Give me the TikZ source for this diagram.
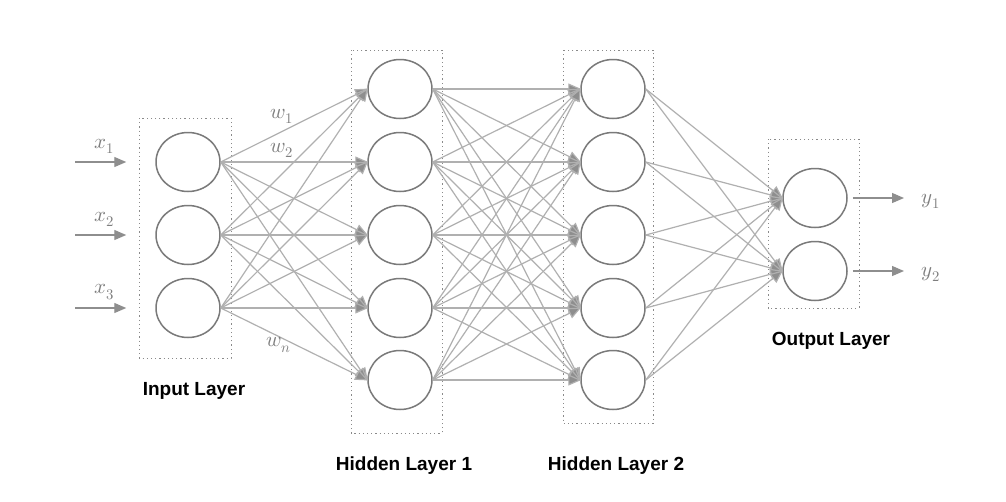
\documentclass[tikz,border=0pt]{standalone}
\usepackage{fontspec}
\usepackage{unicode-math}
\setmainfont{Liberation Sans}
\setmathfont{Latin Modern Math}
\usetikzlibrary{shapes.geometric,arrows.meta}
\definecolor{edgegray}{HTML}{B0B0B0}
\definecolor{headgray}{HTML}{8E8E8E}
\definecolor{ringgray}{HTML}{7A7A7A}
\definecolor{boxgray}{HTML}{8A8A8A}
\definecolor{labgray}{HTML}{7E7E7E}
\tikzset{
  neuron/.style={ellipse,draw=ringgray,line width=1.5pt,fill=white,minimum width=64pt,minimum height=59pt,inner sep=0pt},
  conn/.style={draw=edgegray,line width=1.2pt,-{Triangle[length=13pt,width=11pt,fill=headgray]},shorten >=-1pt},
  iolink/.style={draw=headgray,line width=1.2pt,-{Triangle[length=12pt,width=10pt,fill=headgray]}},
  layerbox/.style={draw=boxgray,line width=1pt,dash pattern=on 1.2pt off 3pt},
  title/.style={font=\fontsize{19}{21}\selectfont\bfseries,text=black},
  mlab/.style={text=labgray,font=\fontsize{21}{24}\selectfont},
}
\begin{document}
\begin{tikzpicture}[x=1pt,y=-1pt]
\path[use as bounding box,fill=white] (0,0) rectangle (1006,501);
% layer boxes
\draw[layerbox] (139,118) rectangle (231,358);
\draw[layerbox] (351,50) rectangle (442,433);
\draw[layerbox] (563,50) rectangle (653,423);
\draw[layerbox] (768,139) rectangle (859,308);
% nodes
\foreach \i/\y in {1/162,2/235,3/308} \node[neuron] (in\i) at (188,\y) {};
\foreach \j/\y in {1/89,2/162,3/235,4/308,5/380} {
  \node[neuron] (ha\j) at (400,\y) {};
  \node[neuron] (hb\j) at (613,\y) {};
}
\foreach \k/\y in {1/198,2/271} \node[neuron] (out\k) at (815,\y) {};
% connections
\foreach \i in {1,2,3} \foreach \j in {1,...,5} \draw[conn] (in\i.east) -- (ha\j.west);
\foreach \i in {1,...,5} \foreach \j in {1,...,5} \draw[conn] (ha\i.east) -- (hb\j.west);
\foreach \i in {1,...,5} \foreach \k in {1,2} \draw[conn] (hb\i.east) -- (out\k.west);
% inputs
\foreach \i/\y in {1/162,2/235,3/308} {
  \coordinate (xs\i) at (75,\y);
  \draw[iolink,shorten >=29pt] (xs\i) -- (in\i.west);
  \node[mlab] (xl\i) at (104,\y-16) {$x_{\i}$};
}
% outputs
\foreach \k/\y in {1/198,2/271} {
  \coordinate (yt\k) at (904,\y);
  \draw[iolink,shorten <=5pt] (out\k.east) -- (yt\k);
  \node[mlab] (yl\k) at (931,\y+3) {$y_{\k}$};
}
% weights
\node[mlab] (w1) at (282,116) {$w_1$};
\node[mlab] (w2) at (282,150) {$w_2$};
\node[mlab] (wn) at (279,345) {$w_n$};
% titles
\node[title] (t1) at (194,391) {Input Layer};
\node[title] (t2) at (404,466) {Hidden Layer 1};
\node[title] (t3) at (616,466) {Hidden Layer 2};
\node[title] (t4) at (831,341) {Output Layer};
\end{tikzpicture}
\end{document}
